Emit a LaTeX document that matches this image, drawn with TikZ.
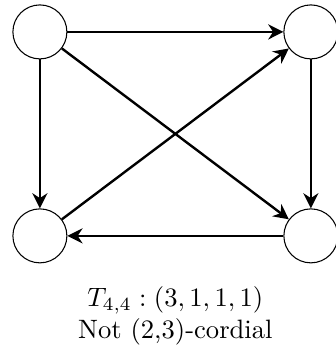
\documentclass[tikz,border=0pt]{standalone}
\usepackage{amsmath}
\usetikzlibrary{arrows.meta,positioning}
\tikzset{
  vertex/.style={
    draw=black,
    circle,
    line width=0.4pt,
    minimum size=20.3pt,
    inner sep=0pt
  },
  arcarrow/.style={
    -{Stealth[length=2mm,width=2mm]},
    line width=0.9pt
  }
}

\begin{document}
\begin{tikzpicture}[x=1pt,y=1pt]
  \useasboundingbox (0,0) rectangle (126.3,-133.5);
  \node[vertex] (v1) at (15.0,-12.0) {};
  \node[vertex] (v2) at (116.9,-12.0) {};
  \node[vertex] (v3) at (15.0,-88.7) {};
  \node[vertex] (v4) at (116.9,-88.7) {};
  \draw[arcarrow] (v1) -- (v2);
  \draw[arcarrow] (v1) -- (v3);
  \draw[arcarrow] (v1) -- (v4);
  \draw[arcarrow] (v3) -- (v2);
  \draw[arcarrow] (v2) -- (v4);
  \draw[arcarrow] (v4) -- (v3);
  \node[align=center, font=\normalsize] (cap) at (65.95,-118.8) {$T_{4,4}:(3,1,1,1)$\\Not (2,3)-cordial};
\end{tikzpicture}
\end{document}
